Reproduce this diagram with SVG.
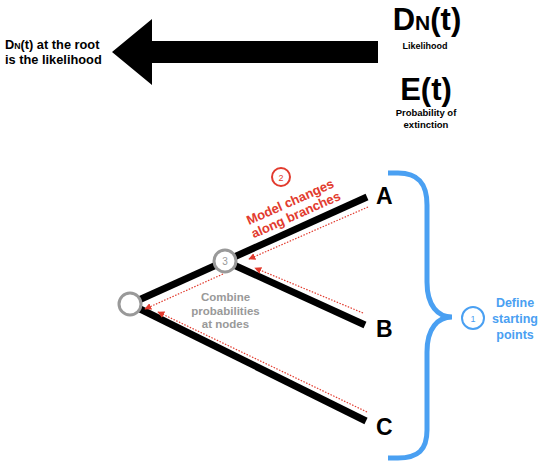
<svg xmlns="http://www.w3.org/2000/svg" width="550" height="469" viewBox="0 0 550 469">
<defs>
<style>
text{font-family:"Liberation Sans",Arial,sans-serif;font-weight:bold}
.branch{stroke:#000;stroke-width:7;fill:none}
.flow{stroke:#e23b2e;stroke-width:1.2;stroke-dasharray:1.5 1.5;fill:none;marker-end:url(#ah)}
.node{fill:#fff;stroke:#999;stroke-width:3}
.red{fill:#e23b2e}
.gray{fill:#999}
.blue{fill:#4aa0f2}
</style>
<marker id="ah" viewBox="0 0 10 10" refX="9" refY="5" markerWidth="7" markerHeight="7" markerUnits="userSpaceOnUse" orient="auto">
<path d="M0,0 L10,5 L0,10 z" fill="#e23b2e"/>
</marker>
</defs>
<rect width="550" height="469" fill="#fff"/>

<g id="big-arrow">
<polygon points="112,52 152,19 152,41 378,41 378,63 152,63 152,85" fill="#000"/>
</g>
<g id="root-note">
<text x="5" y="48.5" font-size="12.8">D<tspan font-size="8.7">N</tspan>(t) at the root</text>
<text x="5" y="63.5" font-size="12.8">is the likelihood</text>
</g>
<g id="dn-label">
<text x="427" y="30" font-size="31" text-anchor="middle">D<tspan font-size="21">N</tspan>(t)</text>
<text x="425" y="49" font-size="9" text-anchor="middle">Likelihood</text>
</g>
<g id="e-label">
<text x="426" y="100" font-size="31" text-anchor="middle">E(t)</text>
<text x="426" y="116" font-size="9.5" text-anchor="middle">Probability of</text>
<text x="426" y="127.5" font-size="9.5" text-anchor="middle">extinction</text>
</g>

<g id="connectors">
<line class="branch" x1="130" y1="304" x2="367" y2="197"/>
<line class="branch" x1="225" y1="261" x2="365" y2="325"/>
<line class="branch" x1="130" y1="304" x2="366" y2="421"/>
<line class="flow" x1="368" y1="207" x2="249" y2="259"/>
<line class="flow" x1="363" y1="313" x2="255" y2="268"/>
<line class="flow" x1="223" y1="274" x2="145" y2="309"/>
<line class="flow" x1="367" y1="412" x2="158" y2="312"/>
</g>

<g id="root-node">
<circle class="node" cx="130" cy="304" r="11"/>
</g>
<g id="node-3">
<circle class="node" cx="225" cy="261" r="11"/>
<text x="225" y="265" font-size="10" text-anchor="middle" class="gray" style="font-weight:normal">3</text>
</g>
<g id="tip-A"><text x="376" y="204" font-size="23">A</text></g>
<g id="tip-B"><text x="376" y="337" font-size="23">B</text></g>
<g id="tip-C"><text x="376" y="435" font-size="23">C</text></g>

<g id="step-2">
<circle cx="281" cy="177" r="9" fill="#fff" stroke="#e23b2e" stroke-width="2"/>
<text x="281" y="180.5" font-size="9" text-anchor="middle" class="red" style="font-weight:normal">2</text>
<g transform="rotate(-24 292 206)">
<text x="292" y="206" font-size="13" text-anchor="middle" class="red">Model changes</text>
<text x="292" y="220" font-size="13" text-anchor="middle" class="red">along branches</text>
</g>
</g>

<g id="step-3-label">
<text x="225.5" y="301" font-size="11.5" text-anchor="middle" class="gray">Combine</text>
<text x="225.5" y="314.5" font-size="11.5" text-anchor="middle" class="gray">probabilities</text>
<text x="225.5" y="328" font-size="11.5" text-anchor="middle" class="gray">at nodes</text>
</g>

<g id="brace">
<path d="M388,173 H398 C418,173 427,183 427,205 V282 C427,306 438,317 452,317 C438,317 427,328 427,352 V430 C427,450 418,458 398,458 H388" fill="none" stroke="#4aa0f2" stroke-width="5"/>
</g>
<g id="step-1">
<circle cx="473" cy="318" r="11" fill="#fff" stroke="#4aa0f2" stroke-width="2"/>
<text x="473" y="321.5" font-size="9" text-anchor="middle" class="blue" style="font-weight:normal">1</text>
<text x="515" y="307" font-size="12.5" text-anchor="middle" class="blue">Define</text>
<text x="515" y="323" font-size="12.5" text-anchor="middle" class="blue">starting</text>
<text x="515" y="339" font-size="12.5" text-anchor="middle" class="blue">points</text>
</g>
</svg>
